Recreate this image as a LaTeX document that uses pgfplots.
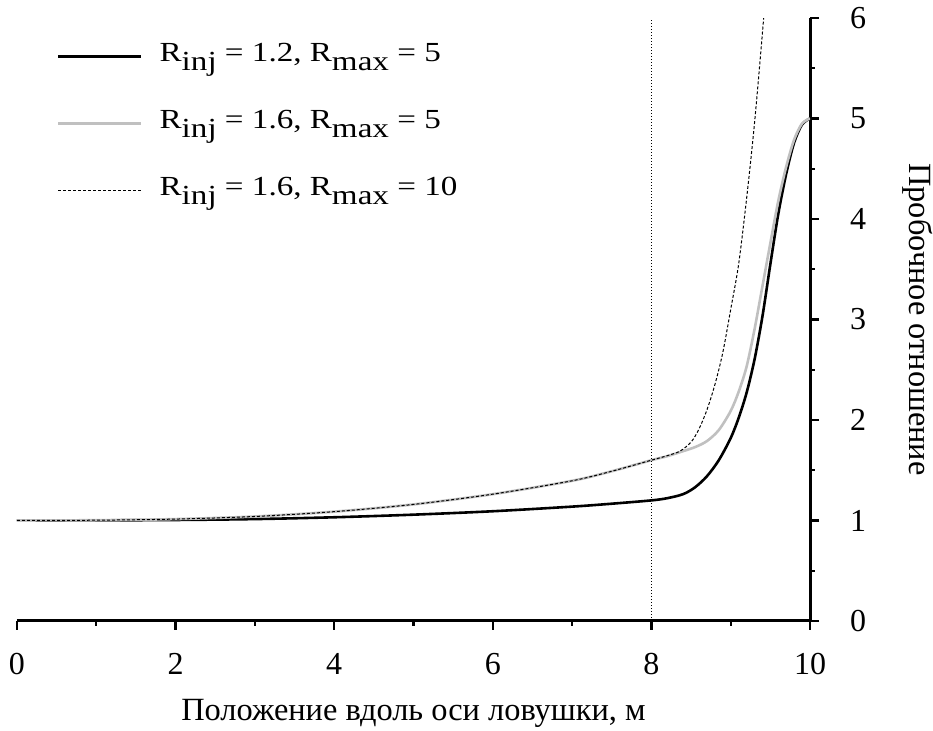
\documentclass[border=0pt]{standalone}
\usepackage{fontspec}
\setmainfont{Liberation Serif}
\usepackage{pgfplots}
\pgfplotsset{compat=1.18}

% legend entry text: wide-set, with full-size lowered subscripts
\newcommand\sub[1]{\raisebox{-0.31em}{#1}}
\newcommand\entry[1]{\hspace{6.5pt}\scalebox{1.2}[1]{#1}}

\begin{document}
\begin{tikzpicture}
\useasboundingbox (-8.5pt,-55pt) rectangle (458pt,310.5pt);
\begin{axis}[
  scale only axis, width=396.5pt, height=301.5pt,
  xmin=0, xmax=10, ymin=0, ymax=6,
  axis x line=bottom, axis y line=right,
  axis line style={-, line width=1.5pt},
  xtick={0,2,...,10}, ytick={0,1,...,6},
  minor x tick num=1, minor y tick num=1,
  tick align=outside,
  major tick length=4.5pt, minor tick length=2.4pt,
  tick style={black, line width=1.2pt},
  /pgf/number format/assume math mode=true,
  ticklabel style={font=\fontsize{16}{19}\selectfont},
  xticklabel style={yshift=-8pt},
  yticklabel style={xshift=12pt},
  label style={font=\fontsize{16.2}{19}\selectfont},
  xlabel={Положение вдоль оси ловушки, м},
  xlabel style={at={(axis description cs:0.5,-0.153)}, anchor=center},
  ylabel={Пробочное отношение},
  ylabel style={at={(axis description cs:1.136,0.5)}, anchor=center, rotate=180},
  legend style={at={(axis description cs:0.05,0.965)}, anchor=north west,
    draw=none, fill=none, inner sep=0pt,
    font=\fontsize{13.8}{16}\selectfont,
    nodes={text height=9pt, text depth=4pt},
    row sep=16.5pt},
  legend cell align=left,
  legend image code/.code={\draw[#1] (0pt,0pt) -- (41.5pt,0pt);},
]
\addplot[black, line width=1.3pt, smooth] coordinates {
  (0,1.000) (1,1.001) (2,1.005) (3,1.014) (4,1.032) (5,1.058) (6,1.092)
  (7,1.138) (7.5,1.167) (8,1.200) (8.2,1.222) (8.4,1.262) (8.55,1.33)
  (8.7,1.44) (8.85,1.60) (9.0,1.82) (9.1,2.02) (9.2,2.27) (9.3,2.60)
  (9.4,3.03) (9.5,3.55) (9.6,4.05) (9.7,4.45) (9.8,4.76) (9.9,4.94) (10,5.0)
};
\addlegendentry{\entry{R\sub{inj} = 1.2, R\sub{max} = 5}}
\addplot[color={rgb,255:red,192;green,192;blue,192}, line width=1.3pt, smooth] coordinates {
  (0,1.000) (1,1.003) (2,1.014) (3,1.040) (4,1.088) (5,1.160) (6,1.262)
  (7,1.395) (7.5,1.49) (8,1.600) (8.2,1.640) (8.4,1.69) (8.55,1.73)
  (8.7,1.79) (8.85,1.90) (9.0,2.09) (9.1,2.28) (9.2,2.53) (9.3,2.90)
  (9.4,3.33) (9.5,3.76) (9.6,4.18) (9.7,4.52) (9.8,4.79) (9.9,4.95) (10,5.0)
};
\addlegendentry{\entry{R\sub{inj} = 1.6, R\sub{max} = 5}}
\addplot[black, line width=0.5pt, dash pattern=on 1.5pt off 1pt, smooth] coordinates {
  (0,1.000) (1,1.003) (2,1.014) (3,1.040) (4,1.088) (5,1.160) (6,1.262)
  (7,1.395) (7.5,1.49) (8,1.600) (8.2,1.645) (8.36,1.69) (8.5,1.78)
  (8.6,1.91) (8.7,2.10) (8.8,2.35) (8.9,2.67) (9.0,3.10) (9.1,3.55)
  (9.2,4.20) (9.3,4.95) (9.4,5.85) (9.43,6.15)
};
\addlegendentry{\entry{R\sub{inj} = 1.6, R\sub{max} = 10}}
% boundary of the injection region
\addplot[black, line width=0.6pt, dash pattern=on 0.6pt off 0.9pt, forget plot]
  coordinates {(8,0) (8,6)};
\end{axis}
\end{tikzpicture}
\end{document}
